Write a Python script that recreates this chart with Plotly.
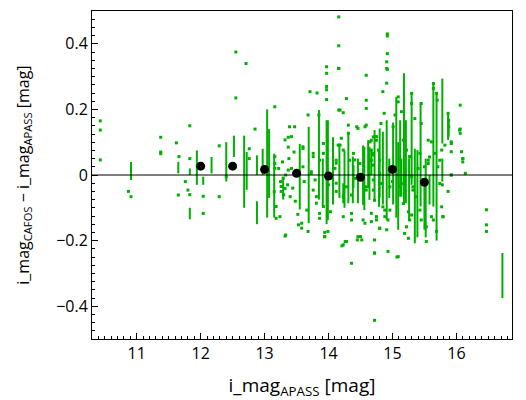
import plotly.graph_objects as go

# vertical runs of points (stars measured on many frames): x, lowest y, highest y
strip_x = [10.91, 11.65, 11.83, 11.83, 11.94, 12.04, 12.17, 12.40, 12.52, 12.68,
           12.72, 12.88, 12.88, 12.97, 13.04, 13.07, 13.15, 13.29,
           13.55, 13.69, 13.85, 13.91, 13.97, 14.07, 14.17, 14.23, 14.31, 14.39,
           14.46, 14.54, 14.62, 14.67, 14.72, 14.80, 14.85, 14.91, 14.95, 15.01,
           15.06, 15.09, 15.14, 15.18, 15.21, 15.26, 15.30, 15.35, 15.39, 15.44,
           15.52, 15.58, 15.64, 15.69, 15.78, 15.78, 15.87, 16.72,
           13.99, 14.25, 14.38, 14.56, 14.64, 14.79, 15.12, 15.50, 15.88]
strip_lo = [-0.015, 0.005, 0.0, -0.135, -0.03, -0.03, 0.005, -0.02, 0.055, -0.10,
            -0.045, 0.0, -0.15, 0.0, -0.13, -0.07, -0.13, -0.075,
            -0.105, -0.147, -0.075, -0.095, -0.15, -0.09, -0.07, -0.086, -0.086, -0.04,
            -0.086, -0.091, -0.04, 0.0, -0.08, -0.07, -0.09, -0.137, -0.07, -0.09,
            -0.13, -0.167, -0.066, -0.09, -0.086, -0.14, -0.03, -0.208, -0.19, -0.096,
            -0.19, -0.09, -0.096, -0.20, 0.096, -0.02, 0.107, -0.375,
            -0.137, -0.10, -0.086, -0.107, -0.076, -0.097, -0.066, -0.167, 0.117]
strip_hi = [0.04, 0.04, 0.02, -0.10, 0.075, -0.005, 0.055, 0.10, 0.12, 0.12,
            0.07, 0.06, -0.08, 0.08, 0.20, 0.14, 0.065, -0.005,
            0.095, 0.147, 0.198, 0.05, 0.167, 0.115, 0.096, -0.025, 0.132, 0.03,
            0.05, 0.09, 0.106, 0.076, 0.137, 0.142, 0.132, 0.167, 0.05, 0.16,
            0.238, 0.10, 0.05, 0.31, 0.167, 0.05, 0.25, 0.08, 0.076, 0.218,
            0.05, 0.0, 0.28, 0.25, 0.294, 0.05, 0.188, -0.238,
            0.167, 0.075, 0.056, 0.086, 0.086, 0.076, 0.167, -0.025, 0.167]

# single scattered points
pt_x = [10.43, 10.43, 10.43, 10.87, 10.91, 11.375, 11.375, 11.375, 11.62, 11.66,
        11.65, 11.83, 11.83, 11.76, 11.80, 11.83, 12.04, 12.04, 12.29, 12.29,
        12.40, 12.55, 12.55, 12.71, 12.76, 12.76, 12.85, 13.16, 13.33, 13.39,
        13.37, 13.37, 13.26, 13.26, 13.22, 13.25, 13.28, 13.30, 13.33, 13.36,
        13.38, 13.42, 13.44, 13.46, 13.48, 13.50, 13.52,
        14.16, 14.59, 14.28, 14.18, 14.23, 14.59, 14.59, 14.57, 14.46, 14.31,
        14.18, 14.23, 14.39, 14.67, 14.67, 14.82, 14.85, 14.87, 15.09, 15.09,
        15.04, 15.14, 15.30, 15.30, 15.35, 15.45, 15.45, 15.56, 15.61, 15.64,
        15.64, 15.69, 15.70, 15.87, 15.88, 15.88, 15.92, 15.92, 13.71, 13.68,
        13.60, 13.76, 13.92, 13.86, 14.12, 14.33, 14.49, 14.80, 15.11, 15.27,
        15.43, 15.56, 15.74, 13.97, 13.97, 13.97, 13.97, 13.97, 14.16, 14.16,
        14.16, 14.16, 14.91, 14.91, 14.91, 14.92, 14.92, 14.92, 14.92, 16.06,
        16.06, 16.06, 16.10, 16.10, 16.14, 16.47, 16.47, 16.47, 13.82, 13.85,
        13.58, 13.58, 13.68, 13.94, 13.99, 14.23, 14.28, 14.46, 14.52, 14.72,
        14.72, 14.80, 14.91, 14.93, 15.09, 15.19, 15.25, 15.53, 15.69, 15.79,
        14.36, 14.57, 14.67, 14.75, 14.96, 15.25, 15.30, 15.61, 15.78, 15.87,
        15.92, 14.23, 14.36, 14.12, 13.76, 13.81, 14.03, 14.59, 15.11, 15.32,
        13.86, 14.36, 14.72, 14.72, 15.07, 14.21, 14.26, 14.45, 14.50, 13.32,
        13.94, 13.94, 13.62, 13.73, 14.00, 14.10, 14.42, 14.70, 15.00, 15.40,
        14.70, 14.70, 14.67, 14.75, 14.78, 14.80, 14.83, 14.70, 14.72, 14.85,
        14.88, 14.93, 15.01, 15.17, 15.22, 15.27, 15.30, 15.32, 15.37, 15.43,
        15.45, 15.50, 15.56, 15.58, 15.66, 15.71, 15.77, 15.82, 15.92, 16.05,
        16.08, 16.10, 15.92, 15.74, 15.77, 15.79, 15.64, 15.53, 15.27, 15.22,
        14.80, 14.88, 14.96, 15.14, 15.17,
        13.16, 13.16, 13.16, 13.15, 13.18, 13.18, 13.32, 13.42, 13.47, 13.29,
        13.32, 13.53, 13.66, 13.76, 13.79, 13.81, 13.92, 14.15, 14.20, 14.31,
        14.44, 14.59, 14.65, 14.75, 14.70, 14.36, 14.54, 14.67, 14.75, 14.23,
        13.86, 13.40, 13.24, 13.60, 13.60, 13.73, 14.12, 14.28, 14.49, 14.59,
        14.70, 14.41, 14.12, 13.92, 13.37]
pt_y = [0.165, 0.137, 0.046, -0.05, -0.066, 0.115, 0.07, 0.065, 0.098, 0.056,
        -0.061, 0.15, 0.05, -0.02, -0.046, -0.06, -0.065, -0.117, 0.089, -0.066,
        -0.005, 0.375, 0.235, 0.34, 0.08, 0.05, 0.14, 0.208, -0.183, 0.147,
        0.115, 0.085, -0.035, -0.05, 0.02, -0.02, 0.04, -0.06, 0.0, -0.03,
        0.05, 0.02, -0.04, 0.07, -0.08, 0.01, -0.12,
        0.325, 0.304, 0.233, 0.198, 0.19, 0.228, 0.203, 0.147, 0.142, 0.127,
        0.091, 0.076, 0.066, 0.106, 0.076, 0.157, 0.254, 0.188, 0.238, 0.223,
        0.183, 0.193, 0.249, 0.218, 0.172, 0.218, 0.157, 0.106, 0.101, 0.279,
        0.264, 0.249, 0.228, 0.188, 0.167, 0.147, 0.101, 0.071, 0.254, 0.183,
        0.081, 0.056, 0.096, 0.045, 0.045, 0.045, 0.035, 0.045, 0.045, 0.056,
        0.066, 0.045, 0.045, 0.33, 0.31, 0.27, 0.26, 0.23, 0.482, 0.394,
        0.325, 0.198, 0.345, 0.325, 0.28, 0.43, 0.424, 0.37, 0.322, 0.213,
        0.14, 0.127, 0.05, 0.04, 0.005, -0.106, -0.152, -0.172, 0.25, 0.183,
        -0.147, -0.162, -0.172, -0.188, -0.172, -0.213, -0.203, -0.188, -0.198, -0.198,
        -0.238, -0.162, -0.167, -0.233, -0.249, -0.178, -0.193, -0.203, -0.172, -0.127,
        -0.117, -0.147, -0.117, -0.137, -0.107, -0.112, -0.122, -0.127, -0.03, -0.05,
        0.0, -0.066, -0.061, -0.05, -0.046, -0.086, -0.112, -0.046, -0.035, -0.046,
        -0.117, -0.269, -0.443, -0.238, -0.25, -0.216, -0.203, -0.198, -0.188, -0.186,
        -0.175, -0.188, -0.02, 0.01, -0.03, 0.02, -0.01, 0.03, -0.02, 0.02,
        0.116, 0.066, 0.045, 0.106, 0.076, 0.005, -0.026, -0.046, -0.077, -0.097,
        -0.127, -0.137, 0.147, 0.106, 0.076, 0.055, -0.005, -0.036, -0.066, -0.107,
        -0.137, 0.025, 0.035, 0.055, 0.066, 0.025, 0.076, 0.091, 0.096, 0.137,
        0.071, 0.050, 0.0, -0.026, -0.097, -0.127, -0.137, -0.158, -0.137, -0.158,
        -0.163, -0.107, -0.036, -0.026, -0.087,
        0.056, 0.035, 0.020, -0.051, -0.096, -0.132, 0.107, 0.117, 0.147, -0.010,
        -0.041, -0.152, -0.107, 0.066, -0.015, -0.066, -0.096, 0.091, 0.112, 0.152,
        0.147, 0.152, 0.101, 0.117, 0.061, -0.137, -0.137, -0.142, -0.127, -0.127,
        -0.132, -0.066, -0.127, 0.086, 0.025, 0.005, -0.025, -0.036, -0.005, -0.036,
        -0.015, 0.046, 0.036, 0.066, 0.015]

# binned medians
bin_x = [12.0, 12.5, 13.0, 13.5, 14.0, 14.5, 15.0, 15.5]
bin_y = [0.027, 0.027, 0.017, 0.005, -0.003, -0.007, 0.017, -0.022]

green = "rgb(0,176,0)"
font = "Open Sans, Liberation Sans, sans-serif"

sx, sy = [], []
for x, lo, hi in zip(strip_x, strip_lo, strip_hi):
    sx += [x, x, None]
    sy += [lo, hi, None]

fig = go.Figure()
fig.add_trace(go.Scatter(x=sx, y=sy, mode="lines",
                         line=dict(color=green, width=2), hoverinfo="skip"))
fig.add_trace(go.Scatter(x=pt_x, y=pt_y, mode="markers",
                         marker=dict(symbol="square", size=3, color=green, line_width=0)))
fig.add_hline(y=0, line_width=1, line_color="black")
fig.add_trace(go.Scatter(x=bin_x, y=bin_y, mode="markers",
                         marker=dict(size=9, color="black", line_width=0)))

# the page body adds an 8px margin, so the figure is 8px smaller than the window
fig.update_layout(
    width=518, height=392,
    margin=dict(l=84, r=14, t=3, b=61),
    paper_bgcolor="white", plot_bgcolor="white",
    showlegend=False,
    font=dict(family=font, size=16, color="black"),
)
# y title as an annotation so it can sit close to the left edge
fig.add_annotation(
    text="i_mag<sub>CAFOS</sub> − i_mag<sub>APASS</sub> [mag]",
    xref="paper", yref="paper", x=-0.165, y=0.5,
    xanchor="center", yanchor="middle", textangle=-90,
    showarrow=False, font=dict(size=16),
)
fig.update_xaxes(
    range=[10.3, 16.87], dtick=1, tick0=10,
    ticks="inside", ticklen=6, tickwidth=1, tickcolor="black",
    minor=dict(dtick=0.1, ticks="inside", ticklen=3, tickcolor="black"),
    showgrid=False, zeroline=False,
    showline=True, linecolor="black", linewidth=1, mirror=True,
    title=dict(text="i_mag<sub>APASS</sub> [mag]", standoff=16),
)
fig.update_yaxes(
    range=[-0.5, 0.5], dtick=0.2, tick0=0,
    ticks="inside", ticklen=6, tickwidth=1, tickcolor="black",
    minor=dict(dtick=0.025, ticks="inside", ticklen=3, tickcolor="black"),
    showgrid=False, zeroline=False,
    showline=True, linecolor="black", linewidth=1, mirror=True,
)

fig.write_html("out.html")
